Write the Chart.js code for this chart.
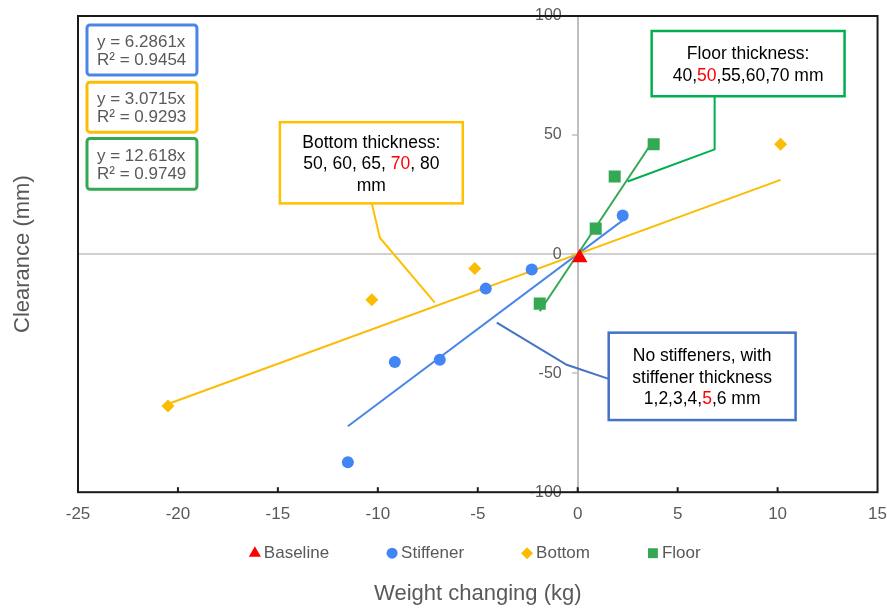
<!DOCTYPE html>
<html>
<head>
<meta charset="utf-8">
<script src="https://cdn.jsdelivr.net/npm/chart.js@4/dist/chart.umd.min.js"></script>
<style>
  html, body { margin: 0; padding: 0; background: #ffffff; }
  canvas { display: block; }
</style>
</head>
<body>
<canvas id="c" width="887" height="608"></canvas>
<script>
// ---- data ----
const xTickValues = [-25, -20, -15, -10, -5, 0, 5, 10, 15];
const yTickValues = [-100, -50, 0, 50, 100];

const baselineX = [0.1];
const baselineY = [-1.5];

const stiffenerX = [-11.5, -9.15, -6.9, -4.6, -2.3, 2.25];
const stiffenerY = [-87.4, -45.3, -44.4, -14.5, -6.5, 16.2];

const bottomX = [-20.5, -10.3, -5.15, 10.15];
const bottomY = [-63.8, -19.2, -6.1, 46.1];

const floorX = [-1.9, 0.9, 1.85, 3.8];
const floorY = [-20.8, 10.7, 32.6, 46.1];

// linear fits through the origin: stiffener, bottom, floor
const trendSlopes = [6.2861, 3.0715, 12.618];
const trendR2 = [0.9454, 0.9293, 0.9749];

// ---- styling ----
const FONT = "'Liberation Sans', Arial, sans-serif";
const GREY_TEXT = '#595959';
const C_BASE = '#FF0000';
const C_STIFF = '#4285F4';
const C_BOTTOM = '#FBBC04';
const C_FLOOR = '#34A853';

const pts = (xs, ys) => xs.map((x, i) => ({ x, y: ys[i] }));
const trend = (xs, k) => {
  const lo = Math.min(...xs), hi = Math.max(...xs);
  return [{ x: lo, y: k * lo }, { x: hi, y: k * hi }];
};

// callout notes: each line is a list of [text, highlighted]
const notes = [
  {
    color: '#FFC000', box: [-14.9, 55.4, -5.75, 21.3],
    leader: [[-10.3, 21.3], [-9.9, 6.9], [-7.15, -20.4]],
    lines: [[['Bottom thickness:', false]],
            [['50, 60, 65, ', false], ['70', true], [', 80', false]],
            [['mm', false]]]
  },
  {
    color: '#00B050', box: [3.7, 93.7, 13.35, 66.3],
    leader: [[6.85, 66.3], [6.85, 44.0], [2.5, 30.5]],
    lines: [[['Floor thickness:', false]],
            [['40,', false], ['50', true], [',55,60,70 mm', false]]]
  },
  {
    color: '#4472C4', box: [1.55, -33.0, 10.9, -69.7],
    leader: [[1.55, -52.4], [-0.55, -46.5], [-4.05, -28.8]],
    lines: [[['No stiffeners, with', false]],
            [['stiffener thickness', false]],
            [['1,2,3,4,', false], ['5', true], [',6 mm', false]]]
  }
];

// fit-equation labels, same order as trendSlopes
const eqBoxes = [
  { color: '#4A86E8', box: [-24.55, 96.2, -19.05, 75.2] },
  { color: '#FBBC04', box: [-24.55, 72.2, -19.05, 51.2] },
  { color: '#34A853', box: [-24.55, 48.6, -19.05, 27.2] }
];

function roundRect(ctx, x, y, w, h, r) {
  ctx.beginPath();
  ctx.moveTo(x + r, y);
  ctx.lineTo(x + w - r, y); ctx.arcTo(x + w, y, x + w, y + r, r);
  ctx.lineTo(x + w, y + h - r); ctx.arcTo(x + w, y + h, x + w - r, y + h, r);
  ctx.lineTo(x + r, y + h); ctx.arcTo(x, y + h, x, y + h - r, r);
  ctx.lineTo(x, y + r); ctx.arcTo(x, y, x + r, y, r);
  ctx.closePath();
}

function markerPath(ctx, style, r, x, y) {
  if (Chart.helpers && Chart.helpers.drawPoint) {
    Chart.helpers.drawPoint(ctx, { pointStyle: style, radius: r, rotation: 0, borderWidth: 0 }, x, y);
    return;
  }
  ctx.beginPath();
  ctx.arc(x, y, r, 0, Math.PI * 2);
  ctx.fill();
}

const decorPlugin = {
  id: 'decor',
  afterDatasetsDraw(chart) {
    const { ctx, chartArea: a } = chart;
    const sx = chart.scales.x, sy = chart.scales.y;
    const X = v => sx.getPixelForValue(v), Y = v => sy.getPixelForValue(v);
    ctx.save();

    // plot frame
    ctx.strokeStyle = '#1a1a1a';
    ctx.lineWidth = 2;
    ctx.strokeRect(a.left, a.top, a.right - a.left, a.bottom - a.top);

    // inward x tick marks
    ctx.lineWidth = 2;
    sx.ticks.forEach(t => {
      const p = X(t.value);
      if (p <= a.left + 1 || p >= a.right - 1) return;
      ctx.beginPath();
      ctx.moveTo(p, a.bottom);
      ctx.lineTo(p, a.bottom - 5);
      ctx.stroke();
    });

    // callouts
    ctx.font = '17.5px ' + FONT;
    ctx.textBaseline = 'middle';
    ctx.textAlign = 'left';
    notes.forEach(n => {
      ctx.strokeStyle = n.color;
      ctx.lineWidth = 2;
      ctx.beginPath();
      n.leader.forEach(([lx, ly], i) => i ? ctx.lineTo(X(lx), Y(ly)) : ctx.moveTo(X(lx), Y(ly)));
      ctx.stroke();

      const x0 = X(n.box[0]), y0 = Y(n.box[1]), x1 = X(n.box[2]), y1 = Y(n.box[3]);
      ctx.fillStyle = '#ffffff';
      ctx.fillRect(x0, y0, x1 - x0, y1 - y0);
      ctx.lineWidth = 2.5;
      ctx.strokeRect(x0, y0, x1 - x0, y1 - y0);

      const lh = 21.5;
      const cx = (x0 + x1) / 2, cy = (y0 + y1) / 2 + 1.5;
      n.lines.forEach((segs, li) => {
        const ly = cy + (li - (n.lines.length - 1) / 2) * lh;
        const total = segs.reduce((s, [t]) => s + ctx.measureText(t).width, 0);
        let tx = cx - total / 2;
        segs.forEach(([t, hi]) => {
          ctx.fillStyle = hi ? '#FF0000' : '#000000';
          ctx.fillText(t, tx, ly);
          tx += ctx.measureText(t).width;
        });
      });
    });

    // fit equations
    ctx.font = '17px ' + FONT;
    eqBoxes.forEach((b, i) => {
      const x0 = X(b.box[0]), y0 = Y(b.box[1]), x1 = X(b.box[2]), y1 = Y(b.box[3]);
      roundRect(ctx, x0, y0, x1 - x0, y1 - y0, 3);
      ctx.fillStyle = '#ffffff';
      ctx.fill();
      ctx.strokeStyle = b.color;
      ctx.lineWidth = 3;
      ctx.stroke();
      ctx.fillStyle = GREY_TEXT;
      const my = (y0 + y1) / 2 + 1;
      ctx.fillText('y = ' + trendSlopes[i] + 'x', x0 + 10, my - 9);
      ctx.fillText('R\u00B2 = ' + trendR2[i], x0 + 10, my + 9);
    });

    // legend (marker series only)
    const items = chart.data.datasets.filter(d => d.inLegend);
    ctx.font = '17px ' + FONT;
    const gapIn = 9, gapOut = 63;
    let total = 0;
    items.forEach((d, i) => {
      total += gapIn + ctx.measureText(d.label).width + (i < items.length - 1 ? gapOut : 0);
    });
    let mx = (a.left + a.right) / 2 - total / 2;
    const ly = a.bottom + 61;
    items.forEach(d => {
      ctx.fillStyle = d.backgroundColor;
      ctx.strokeStyle = d.backgroundColor;
      markerPath(ctx, d.pointStyle, d.legendRadius, mx, ly);
      ctx.fillStyle = GREY_TEXT;
      ctx.fillText(d.label, mx + gapIn, ly);
      mx += gapIn + ctx.measureText(d.label).width + gapOut;
    });

    ctx.restore();
  }
};

Chart.defaults.font.family = FONT;

new Chart(document.getElementById('c'), {
  type: 'scatter',
  data: {
    datasets: [
      { label: 'Baseline', data: pts(baselineX, baselineY), pointStyle: 'triangle', pointRadius: 9,
        backgroundColor: C_BASE, borderColor: C_BASE, borderWidth: 0, order: 0, inLegend: true, legendRadius: 7 },
      { label: 'Stiffener', data: pts(stiffenerX, stiffenerY), pointStyle: 'circle', pointRadius: 6,
        backgroundColor: C_STIFF, borderColor: C_STIFF, borderWidth: 0, order: 1, inLegend: true, legendRadius: 5.5 },
      { label: 'Bottom', data: pts(bottomX, bottomY), pointStyle: 'rectRot', pointRadius: 6.5,
        backgroundColor: C_BOTTOM, borderColor: C_BOTTOM, borderWidth: 0, order: 2, inLegend: true, legendRadius: 6 },
      { label: 'Floor', data: pts(floorX, floorY), pointStyle: 'rect', pointRadius: 8.5,
        backgroundColor: C_FLOOR, borderColor: C_FLOOR, borderWidth: 0, order: 3, inLegend: true, legendRadius: 7 },
      { label: 'Stiffener fit', data: trend(stiffenerX, trendSlopes[0]), showLine: true, pointRadius: 0,
        borderColor: '#4A86E8', borderWidth: 2, order: 6 },
      { label: 'Bottom fit', data: trend(bottomX, trendSlopes[1]), showLine: true, pointRadius: 0,
        borderColor: '#FBBC04', borderWidth: 2, order: 5 },
      { label: 'Floor fit', data: trend(floorX, trendSlopes[2]), showLine: true, pointRadius: 0,
        borderColor: '#34A853', borderWidth: 2, order: 4 }
    ]
  },
  options: {
    responsive: false,
    devicePixelRatio: 1,
    animation: false,
    layout: { padding: { left: 0, right: 9, top: 16, bottom: 0 } },
    plugins: { legend: { display: false }, tooltip: { enabled: false } },
    scales: {
      x: {
        type: 'linear', min: -25, max: 15,
        afterBuildTicks: s => { s.ticks = xTickValues.map(v => ({ value: v })); },
        grid: { display: false, drawTicks: true, tickLength: 12 },
        border: { display: false },
        ticks: { color: GREY_TEXT, font: { size: 17 }, padding: 0 },
        title: { display: true, text: 'Weight changing (kg)', color: GREY_TEXT,
                 font: { size: 22 }, padding: { top: 56, bottom: 1 } }
      },
      y: {
        type: 'linear', axis: 'y', position: { x: 0 }, min: -100, max: 100,
        afterBuildTicks: s => { s.ticks = yTickValues.map(v => ({ value: v })); },
        grid: {
          color: c => (c.tick && c.tick.value === 0) ? '#d0d0d0' : 'rgba(0,0,0,0)',
          lineWidth: 2, drawTicks: true, tickLength: 5, tickColor: '#bfbfbf', tickWidth: 1.5
        },
        border: { display: true, color: '#bfbfbf', width: 2 },
        ticks: { color: GREY_TEXT, font: { size: 16 }, callback: v => v + '\u2002\u2002' }
      },
      yt: {
        type: 'linear', axis: 'y', position: 'left', min: 0, max: 1,
        ticks: { display: false },
        grid: { display: false, drawTicks: false },
        border: { display: false },
        title: { display: true, text: 'Clearance (mm)', color: GREY_TEXT,
                 font: { size: 22 }, padding: { top: 10, bottom: 0 } },
        afterFit: s => { s.width = 78; }
      }
    }
  },
  plugins: [decorPlugin]
});
</script>
</body>
</html>
